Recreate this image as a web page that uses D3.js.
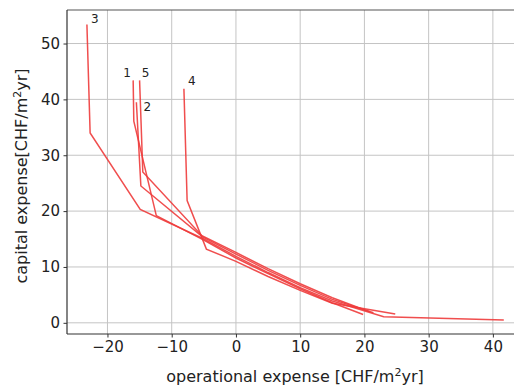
<!DOCTYPE html>
<meta charset="utf-8">
<script src="https://d3js.org/d3.v7.min.js"></script>
<style>
  body { margin: 0; background: #fff; }
  text { font-family: "DejaVu Sans", sans-serif; fill: #222; }
</style>
<div id="chart"></div>
<script>
// series: [operational expense, capital expense]
var labels = ["1", "2", "3", "4", "5"];
var s1 = [[-16.0, 43.4], [-15.9, 36.1], [-12.4, 19.2], [-5.0, 14.8], [0, 11.6], [5, 8.8], [10, 6.1], [15, 3.6], [19.8, 1.5]];
var s2 = [[-15.5, 39.5], [-14.8, 24.5], [-5.2, 15.4], [0, 12.3], [5, 9.4], [10, 6.7], [15, 4.2], [21.4, 1.8]];
var s3 = [[-23.2, 53.4], [-22.7, 34.0], [-14.9, 20.3], [-5.0, 15.0], [0, 11.9], [5, 9.0], [10, 6.3], [15, 3.9], [23.0, 1.1], [41.7, 0.5]];
var s4 = [[-8.1, 41.9], [-7.6, 21.9], [-4.6, 13.2], [0, 11.0], [5, 8.3], [10, 5.8], [15, 3.5], [24.8, 1.6]];
var s5 = [[-15.0, 43.4], [-14.5, 27.0], [-5.3, 15.6], [0, 12.6], [5, 9.7], [10, 7.0], [15, 4.5], [20.8, 2.0]];
var series = [s1, s2, s3, s4, s5];
var xTicks = [-20, -10, 0, 10, 20, 30, 40];
var yTicks = [0, 10, 20, 30, 40, 50];

var W = 514, H = 386;
var mLeft = 67, mTop = 10, mBottom = 334;

var svg = d3.select("#chart").append("svg")
  .attr("width", W).attr("height", H);

var x = d3.scaleLinear().domain([-26.3, 45]).range([mLeft, 525]);
var y = d3.scaleLinear().domain([-2, 56]).range([mBottom, mTop]);

// grid
svg.append("g").selectAll("line").data(xTicks).enter().append("line")
  .attr("x1", d => x(d)).attr("x2", d => x(d))
  .attr("y1", mTop).attr("y2", mBottom)
  .attr("stroke", "#c4c4c4").attr("stroke-width", 1);
svg.append("g").selectAll("line").data(yTicks).enter().append("line")
  .attr("x1", mLeft).attr("x2", W)
  .attr("y1", d => y(d)).attr("y2", d => y(d))
  .attr("stroke", "#c4c4c4").attr("stroke-width", 1);

// lines
var line = d3.line().x(d => x(d[0])).y(d => y(d[1]));
svg.append("g").selectAll("path").data(series).enter().append("path")
  .attr("d", line)
  .attr("fill", "none")
  .attr("stroke", "#ee3b3b")
  .attr("stroke-opacity", 0.9)
  .attr("stroke-width", 1.5);

// labels at top point of each series
var offs = [[-6, -7], [11, 5], [8, -5], [8, -7], [6, -7]];
svg.append("g").selectAll("text").data(series).enter().append("text")
  .attr("x", (d, i) => x(d[0][0]) + offs[i][0])
  .attr("y", (d, i) => y(d[0][1]) + offs[i][1])
  .attr("text-anchor", "middle")
  .attr("dominant-baseline", "middle")
  .style("font-size", "12px")
  .text((d, i) => labels[i]);

// axes
var xAxis = svg.append("g")
  .attr("transform", "translate(0," + mBottom + ")")
  .call(d3.axisBottom(x).tickValues(xTicks).tickSize(3.5).tickPadding(3.5).tickFormat(d3.format("d")));
var yAxis = svg.append("g")
  .attr("transform", "translate(" + mLeft + ",0)")
  .call(d3.axisLeft(y).tickValues(yTicks).tickSize(3.5).tickPadding(3.5));
[xAxis, yAxis].forEach(function(a) {
  a.select(".domain").remove();
  a.selectAll("line").attr("stroke", "#333");
  a.selectAll("text").style("font-size", "15px").attr("fill", "#222");
});

// spines
svg.append("line").attr("x1", mLeft).attr("x2", W).attr("y1", mBottom).attr("y2", mBottom)
  .attr("stroke", "#333").attr("stroke-width", 1.2);
svg.append("line").attr("x1", mLeft).attr("x2", W).attr("y1", mTop).attr("y2", mTop)
  .attr("stroke", "#555").attr("stroke-width", 1.2);
svg.append("line").attr("x1", mLeft).attr("x2", mLeft).attr("y1", mTop).attr("y2", mBottom)
  .attr("stroke", "#333").attr("stroke-width", 1.2);

// axis titles
var xt = svg.append("text")
  .attr("x", 295).attr("y", 382)
  .attr("text-anchor", "middle")
  .style("font-size", "16px");
xt.append("tspan").text("operational expense [CHF/m");
xt.append("tspan").attr("dy", -6).style("font-size", "11px").text("2");
xt.append("tspan").attr("dy", 6).text("yr]");

var yt = svg.append("text")
  .attr("transform", "translate(27," + 176 + ") rotate(-90)")
  .attr("text-anchor", "middle")
  .style("font-size", "16px");
yt.append("tspan").text("capital expense[CHF/m");
yt.append("tspan").attr("dy", -6).style("font-size", "11px").text("2");
yt.append("tspan").attr("dy", 6).text("yr]");
</script>
